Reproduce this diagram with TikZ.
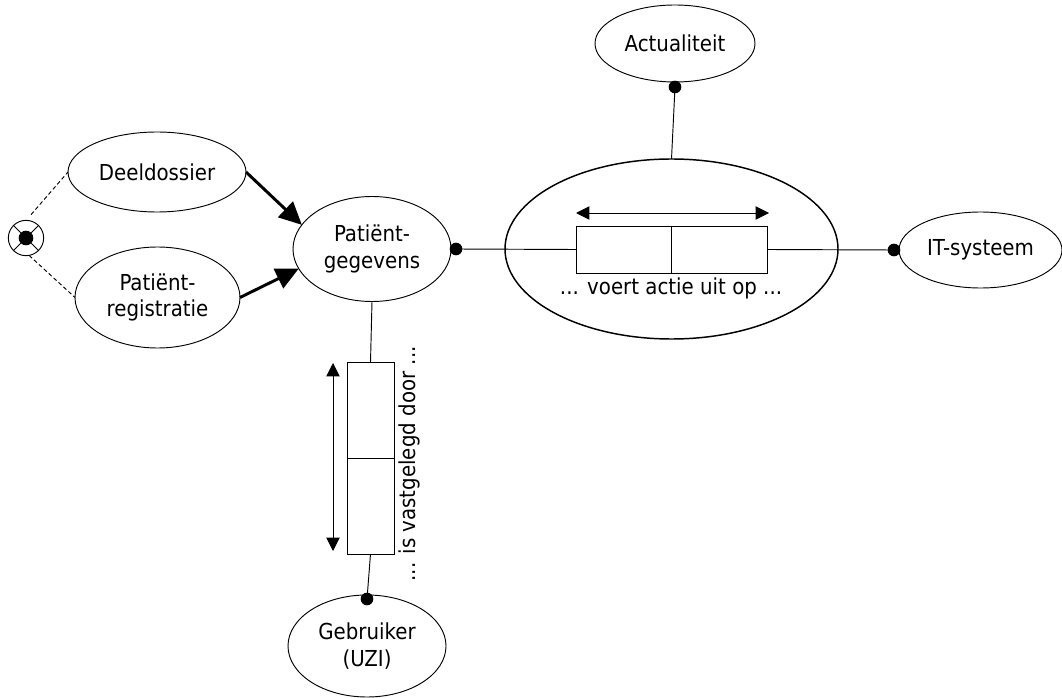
\documentclass[tikz,border=0pt]{standalone}
\usepackage{fontspec}
\setmainfont{DejaVu Sans Condensed}
\usetikzlibrary{arrows.meta,shapes.geometric}
\begin{document}
\begin{tikzpicture}[x=0.75pt,y=-0.75pt,
  every node/.style={font=\fontsize{16.5}{20}\selectfont},
  concept/.style={ellipse, draw, line width=0.7pt, inner sep=0pt, outer sep=0pt, align=center},
  cell/.style={rectangle, draw, line width=0.7pt, inner sep=0pt, outer sep=0pt},
  dotn/.style={circle, fill=black, inner sep=0pt, outer sep=0pt, minimum size=9.5pt},
  thin line/.style={line width=0.7pt},
  bold arrow/.style={line width=2.2pt, -{Triangle[length=17pt,width=16pt]}},
  span arrow/.style={line width=0.7pt, {Triangle[length=10pt,width=10pt]}-{Triangle[length=10pt,width=10pt]}}
]
\useasboundingbox (0,0) rectangle (1062,698);

% concepts
\node[concept, minimum width=133.5pt, minimum height=60pt] (dd) at (157,172) {Deeldossier};
\node[concept, minimum width=123.75pt, minimum height=75.75pt] (pr) at (157.5,297.5) {Patiënt-\\registratie};
\node[concept, minimum width=118.5pt, minimum height=78.75pt] (pg) at (372,249) {Patiënt-\\gegevens};
\node[concept, line width=1.1pt, minimum width=249.75pt, minimum height=135pt] (act) at (671.5,249) {};
\node[concept, minimum width=120pt, minimum height=57.75pt] (actual) at (675,43.5) {Actualiteit};
\node[concept, minimum width=122.25pt, minimum height=57pt] (it) at (980.5,250) {IT-systeem};
\node[concept, minimum width=118.5pt, minimum height=76.5pt] (geb) at (367,646) {Gebruiker\\(UZI)};

% exclusion symbol
\node[circle, draw, line width=0.7pt, minimum size=26.5pt, inner sep=0pt, outer sep=0pt] (sel) at (26,238) {};
\draw[thin line] (sel.45) -- (sel.225) (sel.135) -- (sel.-45);
\node[dotn, minimum size=11pt] (selc) at (sel.center) {};
\draw[thin line, dashed, dash pattern=on 3pt off 2pt] ([shift={(2,-6)}]sel.80) -- (dd.west);
\draw[thin line, dashed, dash pattern=on 3pt off 2pt] (sel.-80) -- (pr.west);

% specialisation arrows
\draw[bold arrow] (dd.east) -- (pg.161);
\draw[bold arrow] (pr.east) -- (pg.195);

% fact type: ... voert actie uit op ...
\node[cell, minimum width=71.25pt, minimum height=35.25pt] (hb1) at (623.5,249.5) {};
\node[cell, minimum width=72pt, minimum height=35.25pt] (hb2) at (719,249.5) {};
\coordinate (ha1) at (576,213);
\coordinate (ha2) at (769,213);
\draw[span arrow] (ha1) -- (ha2);
\node (voert) at (671,288) {... voert actie uit op ...};

\node[dotn, anchor=west] (dpg) at ([xshift=-1pt]pg.east) {};
\node[dotn, anchor=north] (dact) at ([yshift=1pt]actual.south) {};
\node[dotn, anchor=east] (dit) at ([xshift=1pt]it.west) {};
\draw[thin line] (dpg.center) -- (hb1.west);
\draw[thin line] (hb2.east) -- (dit.center);
\draw[thin line] (dact.center) -- (act.north);

% fact type: ... is vastgelegd door ...
\node[cell, minimum width=35.25pt, minimum height=72pt] (vb1) at (370.5,410) {};
\node[cell, minimum width=35.25pt, minimum height=72pt] (vb2) at (370.5,506) {};
\coordinate (va1) at (333,363);
\coordinate (va2) at (333,551);
\draw[span arrow] (va1) -- (va2);
\node[rotate=90] (vast) at (409,464) {... is vastgelegd door ...};

\node[dotn] (dgeb) at ([yshift=-3]geb.north) {};
\draw[thin line] (pg.south) -- (vb1.north);
\draw[thin line] (vb2.south) -- (dgeb.center);
\end{tikzpicture}
\end{document}
